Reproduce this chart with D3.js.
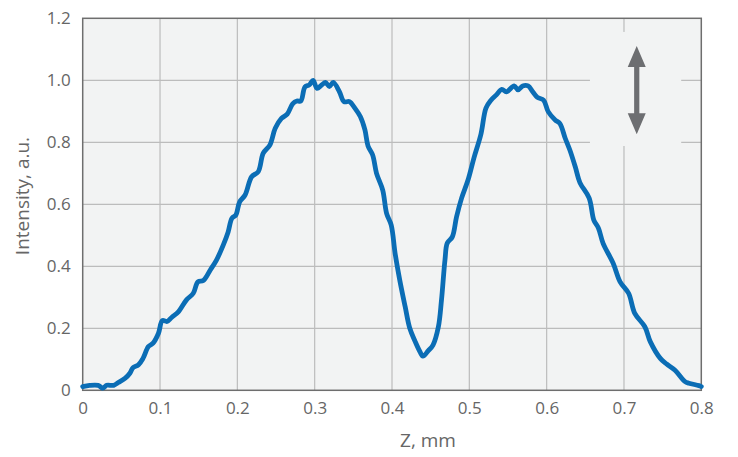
<!DOCTYPE html>
<html>
<head>
<meta charset="utf-8">
<script src="https://cdn.jsdelivr.net/npm/d3@7"></script>
<style>
  html, body { margin: 0; padding: 0; background: #ffffff; }
  svg { display: block; }
  text { font-family: "Open Sans", "Noto Sans", sans-serif; fill: #666666; }
</style>
</head>
<body>
<svg id="chart" width="738" height="457"></svg>
<script>
// ---- data ----
const zValues = [0.000,0.009,0.020,0.026,0.031,0.040,0.046,0.055,0.061,0.065,0.072,0.078,0.085,0.091,0.098,0.103,0.109,0.115,0.124,0.134,0.143,0.149,0.156,0.165,0.173,0.182,0.188,0.193,0.198,0.203,0.210,0.2185,0.227,0.2335,0.242,0.249,0.257,0.2645,0.2715,0.277,0.282,0.2875,0.293,0.298,0.303,0.309,0.314,0.319,0.324,0.332,0.338,0.345,0.352,0.359,0.365,0.369,0.375,0.380,0.388,0.393,0.399,0.404,0.410,0.417,0.423,0.430,0.436,0.440,0.447,0.453,0.460,0.464,0.4685,0.4715,0.478,0.4835,0.490,0.4985,0.506,0.515,0.5215,0.528,0.535,0.542,0.548,0.558,0.563,0.569,0.576,0.582,0.588,0.596,0.602,0.611,0.617,0.624,0.630,0.637,0.643,0.655,0.661,0.667,0.673,0.686,0.695,0.706,0.714,0.727,0.734,0.747,0.755,0.766,0.779,0.784,0.797,0.800];
const intensityValues = [0.012,0.016,0.016,0.007,0.016,0.016,0.025,0.039,0.055,0.073,0.082,0.103,0.141,0.152,0.184,0.225,0.222,0.235,0.254,0.291,0.313,0.350,0.354,0.388,0.420,0.470,0.510,0.555,0.565,0.608,0.630,0.689,0.705,0.765,0.791,0.845,0.877,0.891,0.924,0.933,0.933,0.979,0.985,1.000,0.974,0.985,0.993,0.980,0.993,0.963,0.931,0.931,0.910,0.883,0.840,0.788,0.759,0.700,0.646,0.571,0.533,0.442,0.356,0.270,0.200,0.157,0.125,0.110,0.128,0.146,0.205,0.291,0.420,0.475,0.495,0.560,0.620,0.680,0.750,0.826,0.910,0.936,0.953,0.971,0.963,0.982,0.969,0.982,0.982,0.963,0.945,0.936,0.899,0.872,0.861,0.813,0.775,0.721,0.670,0.620,0.549,0.523,0.474,0.410,0.350,0.313,0.248,0.205,0.157,0.103,0.085,0.065,0.028,0.023,0.015,0.012];
const xTicks = [0, 0.1, 0.2, 0.3, 0.4, 0.5, 0.6, 0.7, 0.8];
const xTickLabels = ["0", "0.1", "0.2", "0.3", "0.4", "0.5", "0.6", "0.7", "0.8"];
const yTicks = [0, 0.2, 0.4, 0.6, 0.8, 1.0, 1.2];
const yTickLabels = ["0", "0.2", "0.4", "0.6", "0.8", "1.0", "1.2"];
const xTitle = "Z, mm";
const yTitle = "Intensity, a.u.";
// annotation (double arrow, in data coordinates)
const arrowZ = 0.7165;
const arrowTop = 1.111;
const arrowBottom = 0.826;
const arrowBox = { z0: 0.656, z1: 0.774, y0: 0.788, y1: 1.156 };

// ---- layout ----
const W = 738, H = 457;
const margin = { left: 82.7, top: 18.3, right: 36.7, bottom: 66.7 };
const svg = d3.select("#chart");
const x = d3.scaleLinear().domain([0, 0.8]).range([margin.left, W - margin.right]);
const y = d3.scaleLinear().domain([0, 1.2]).range([H - margin.bottom, margin.top]);

// plot background
svg.append("rect")
  .attr("x", x(0)).attr("y", y(1.2))
  .attr("width", x(0.8) - x(0)).attr("height", y(0) - y(1.2))
  .attr("fill", "#f2f3f3");

// grid
const grid = svg.append("g").attr("stroke", "#bcbcbc").attr("stroke-width", 1.2);
grid.selectAll("line.v").data(xTicks.slice(1, -1)).join("line")
  .attr("x1", d => x(d)).attr("x2", d => x(d))
  .attr("y1", y(0)).attr("y2", y(1.2));
grid.selectAll("line.h").data(yTicks.slice(1, -1)).join("line")
  .attr("x1", x(0)).attr("x2", x(0.8))
  .attr("y1", d => y(d)).attr("y2", d => y(d));

// box behind the arrow that hides the grid
svg.append("rect")
  .attr("x", x(arrowBox.z0)).attr("y", y(arrowBox.y1))
  .attr("width", x(arrowBox.z1) - x(arrowBox.z0))
  .attr("height", y(arrowBox.y0) - y(arrowBox.y1))
  .attr("fill", "#f2f3f3");

// frame
svg.append("rect")
  .attr("x", x(0)).attr("y", y(1.2))
  .attr("width", x(0.8) - x(0)).attr("height", y(0) - y(1.2))
  .attr("fill", "none").attr("stroke", "#6e6e6e").attr("stroke-width", 1.5);

// axes (labels only)
const xAxis = d3.axisBottom(x).tickValues(xTicks)
  .tickFormat((d, i) => xTickLabels[i]).tickSize(0).tickPadding(12);
const gx = svg.append("g").attr("transform", `translate(0,${y(0)})`).call(xAxis);
gx.select(".domain").remove();
gx.selectAll("text").attr("font-size", 17).attr("fill", "#666666")
  .style("font-family", '"Open Sans", sans-serif');

const yAxis = d3.axisLeft(y).tickValues(yTicks)
  .tickFormat((d, i) => yTickLabels[i]).tickSize(0).tickPadding(12);
const gy = svg.append("g").attr("transform", `translate(${x(0)},0)`).call(yAxis);
gy.select(".domain").remove();
gy.selectAll("text").attr("font-size", 17).attr("fill", "#666666")
  .style("font-family", '"Open Sans", sans-serif');

// titles
svg.append("text").attr("x", 428).attr("y", 446.5)
  .attr("text-anchor", "middle").attr("font-size", 19).text(xTitle);
svg.append("text")
  .attr("transform", `translate(29,196) rotate(-90)`)
  .attr("text-anchor", "middle").attr("font-size", 19).text(yTitle);

// data line
const pts = zValues.map((z, i) => [z, intensityValues[i]]);
svg.append("path").datum(pts)
  .attr("fill", "none").attr("stroke", "#0b6db5").attr("stroke-width", 4.8)
  .attr("stroke-linejoin", "round").attr("stroke-linecap", "round")
  .attr("d", d3.line().curve(d3.curveCatmullRom.alpha(0.5))
    .x(d => x(d[0])).y(d => y(d[1])));

// double arrow
const ax = x(arrowZ), at = y(arrowTop), ab = y(arrowBottom);
const headL = 21, headW = 9, shaftW = 2.6;
const arrowPath = [
  [ax, at], [ax + headW, at + headL], [ax + shaftW, at + headL],
  [ax + shaftW, ab - headL], [ax + headW, ab - headL], [ax, ab],
  [ax - headW, ab - headL], [ax - shaftW, ab - headL],
  [ax - shaftW, at + headL], [ax - headW, at + headL]
];
svg.append("path")
  .attr("d", d3.line()(arrowPath) + "Z")
  .attr("fill", "#6d6e71");
</script>
</body>
</html>
